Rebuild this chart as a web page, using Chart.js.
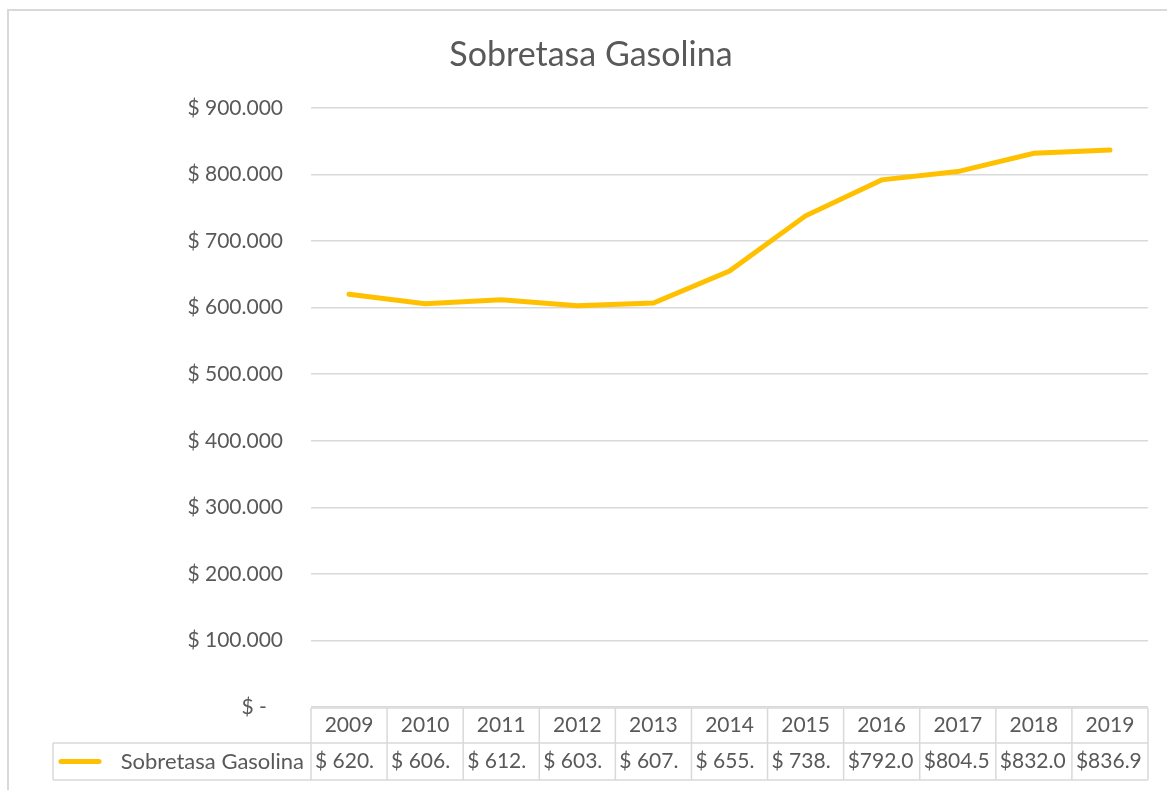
<!DOCTYPE html>
<html>
<head>
<meta charset="utf-8">
<script src="https://cdn.jsdelivr.net/npm/chart.js@4.4.0/dist/chart.umd.min.js"></script>
<style>
  body { margin: 0; background: #fff; }
  canvas { display: block; }
</style>
</head>
<body>
<canvas id="c" width="1167" height="790"></canvas>
<script>
var years = ['2009','2010','2011','2012','2013','2014','2015','2016','2017','2018','2019'];
var sobretasa = [620000, 606000, 612000, 603000, 607000, 655000, 738000, 792000, 804500, 832000, 836900];
// lo que alcanza a verse en cada celda de la tabla
var cellText = ['$ 620.', '$ 606.', '$ 612.', '$ 603.', '$ 607.', '$ 655.', '$ 738.', '$792.0', '$804.5', '$832.0', '$836.9'];
var seriesName = 'Sobretasa Gasolina';

var gray = '#595959';
var gridGray = '#d9d9d9';
var gold = '#FFC000';
var fontFam = 'Lato, "Open Sans", sans-serif';

function money(v){
    if(v === 0) return '$ -   ';
    return '$ ' + v.toString().replace(/\B(?=(\d{3})+(?!\d))/g, '.');
}

var frame = {
    id: 'frame',
    beforeDraw: function(chart){
        var ctx = chart.ctx;
        ctx.save();
        ctx.fillStyle = '#fff';
        ctx.fillRect(0, 0, chart.width, chart.height);
        ctx.strokeStyle = gridGray;
        ctx.lineWidth = 2;
        ctx.beginPath();
        ctx.moveTo(7, 10); ctx.lineTo(chart.width, 10);
        ctx.moveTo(8, 10); ctx.lineTo(8, chart.height);
        ctx.stroke();
        // titulo
        ctx.fillStyle = gray;
        ctx.font = '34px ' + fontFam;
        ctx.textAlign = 'center';
        ctx.textBaseline = 'middle';
        ctx.fillText(seriesName, 591, 55);
        ctx.restore();
    }
};

var dataTable = {
    id: 'dataTable',
    afterDraw: function(chart){
        var ctx = chart.ctx;
        var x = chart.scales.x;
        var area = chart.chartArea;
        var n = years.length;
        var cw = (area.right - area.left) / n;
        var top = area.bottom + 1;
        var mid = top + 35;
        var bot = mid + 37;
        var labelLeft = 53;

        ctx.save();
        ctx.strokeStyle = gridGray;
        ctx.lineWidth = 1.5;
        ctx.beginPath();
        ctx.moveTo(area.left, top); ctx.lineTo(area.right, top);
        ctx.moveTo(labelLeft, mid); ctx.lineTo(area.right, mid);
        ctx.moveTo(labelLeft, bot); ctx.lineTo(area.right, bot);
        ctx.moveTo(labelLeft, mid); ctx.lineTo(labelLeft, bot);
        for(var i=0; i<=n; i++){
            var bx = area.left + i*cw;
            ctx.moveTo(bx, top); ctx.lineTo(bx, bot);
        }
        ctx.stroke();

        ctx.fillStyle = gray;
        ctx.font = '21px ' + fontFam;
        ctx.textBaseline = 'middle';
        for(var j=0; j<n; j++){
            var cx = x.getPixelForValue(j);
            ctx.textAlign = 'center';
            ctx.fillText(years[j], cx, (top+mid)/2);
            ctx.textAlign = 'left';
            ctx.fillText(cellText[j], cx - cw/2 + 4, (mid+bot)/2);
        }

        // clave de la leyenda
        ctx.font = '22px ' + fontFam;
        ctx.textAlign = 'right';
        ctx.fillText(seriesName, area.left - 7, (mid+bot)/2);
        ctx.strokeStyle = gold;
        ctx.lineWidth = 5;
        ctx.lineCap = 'round';
        ctx.beginPath();
        ctx.moveTo(61, (mid+bot)/2); ctx.lineTo(99, (mid+bot)/2);
        ctx.stroke();
        ctx.restore();
    }
};

var myChart = new Chart(document.getElementById('c'), {
    type: 'line',
    data: {
        labels: years,
        datasets: [{
            label: seriesName,
            data: sobretasa,
            borderColor: gold,
            backgroundColor: gold,
            borderWidth: 5,
            borderCapStyle: 'round',
            borderJoinStyle: 'miter',
            pointRadius: 0,
            tension: 0
        }]
    },
    options: {
        responsive: false,
        animation: false,
        layout: { padding: { top: 108, right: 19, bottom: 83, left: 0 } },
        plugins: {
            legend: { display: false },
            title: { display: false },
            tooltip: { enabled: false }
        },
        scales: {
            x: {
                display: false,
                offset: true
            },
            y: {
                min: 0,
                max: 900000,
                afterFit: function(s){ s.width = 311; },
                border: { display: false },
                grid: { color: gridGray, lineWidth: 1.5, drawTicks: false },
                ticks: {
                    stepSize: 100000,
                    padding: 28,
                    color: gray,
                    font: { family: fontFam, size: 21 },
                    callback: function(v){ return money(v); }
                }
            }
        }
    },
    plugins: [frame, dataTable]
});
</script>
</body>
</html>
